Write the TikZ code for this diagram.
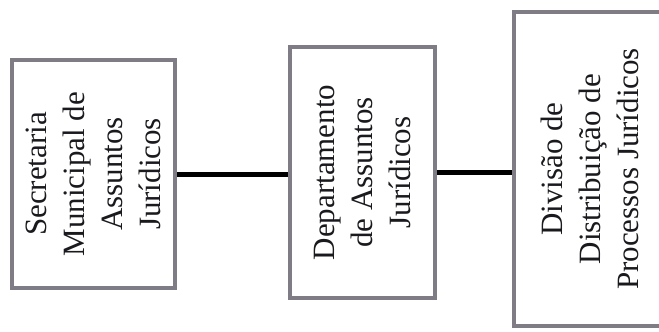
\documentclass[tikz,border=0pt]{standalone}
\usepackage{fontspec}
\setmainfont{Liberation Serif}
\begin{document}
\begin{tikzpicture}[x=1pt,y=1pt,
  unitbox/.style={draw={rgb,255:red,128;green,124;blue,134}, line width=4pt, fill=white,
    rotate=90, align=center, inner sep=0pt, text={rgb,255:red,25;green,25;blue,30},
    font=\fontsize{31}{38}\selectfont},
  link/.style={line width=5pt, black}]
\useasboundingbox (0,0) rectangle (659,332);
\fill[white] (0,0) rectangle (659,332);
\node[unitbox, minimum width=228pt, minimum height=163pt] (b1) at (93.5,158)
  {Secretaria\\Municipal de\\Assuntos\\Jurídicos};
\node[unitbox, minimum width=251pt, minimum height=145pt] (b2) at (362.5,159.5)
  {Departamento\\de Assuntos\\Jurídicos};
\node[unitbox, minimum width=314pt, minimum height=152pt] (b3) at (590,163)
  {Divisão de\\Distribuição de\\Processos Jurídicos};
\coordinate (l1) at (b1.south |- 0,157);
\draw[link] (l1) -- (b2.north |- l1);
\draw[link] (b2.south) -- (b3.north |- b2.south);
\end{tikzpicture}
\end{document}
